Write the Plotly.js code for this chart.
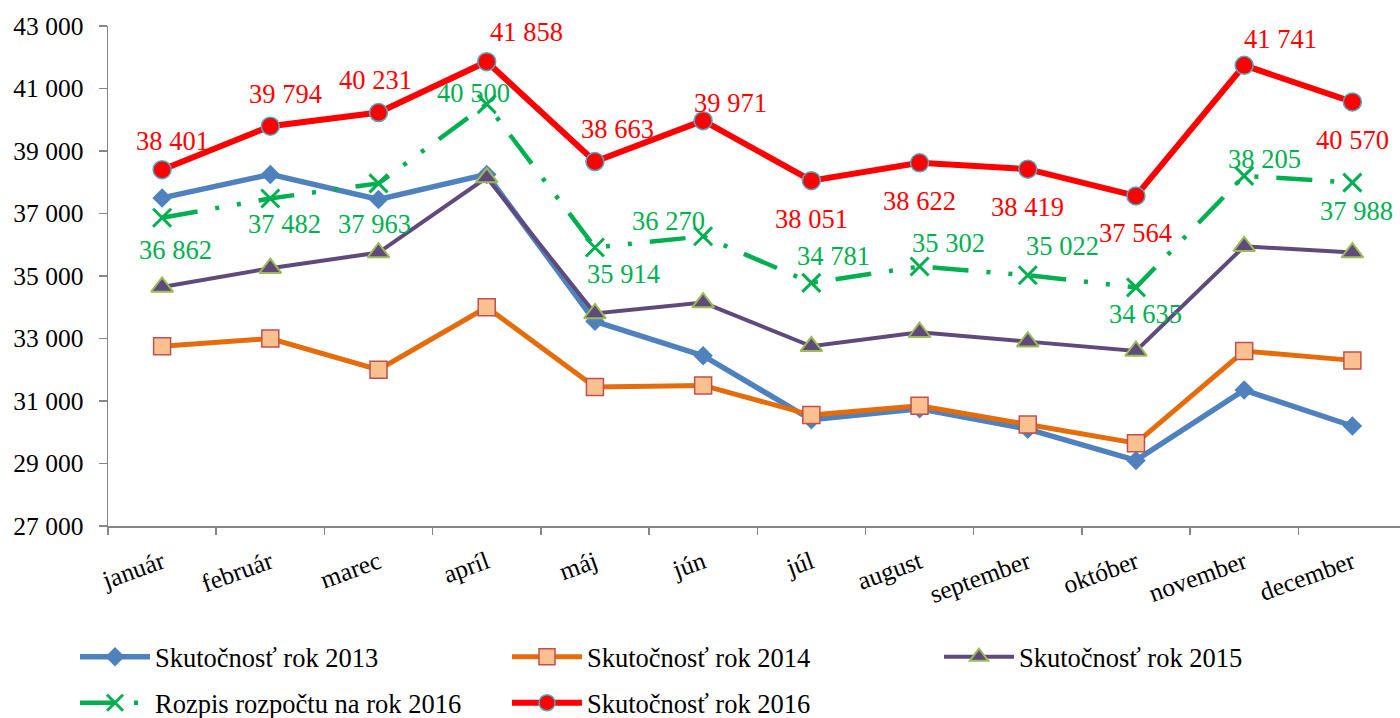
<!DOCTYPE html>
<html>
<head>
<meta charset="utf-8">
<script src="https://cdn.plot.ly/plotly-3.0.1.min.js"></script>
<style>
html,body{margin:0;padding:0;background:#fff;overflow:hidden;}
#chart{width:1400px;height:718px;}
</style>
</head>
<body>
<div id="chart"></div>
<script>
// ---- data ----
const months = ['január','február','marec','apríl','máj','jún','júl','august','september','október','november','december'];
const skut2013 = [37500, 38250, 37450, 38250, 33550, 32450, 30400, 30750, 30100, 29100, 31350, 30200];
const skut2014 = [32750, 33000, 32000, 34000, 31450, 31500, 30550, 30850, 30250, 29650, 32600, 32300];
const skut2015 = [34650, 35250, 35750, 38150, 33800, 34150, 32750, 33200, 32900, 32600, 35950, 35750];
const rozpis2016 = [36862, 37482, 37963, 40500, 35914, 36270, 34781, 35302, 35022, 34635, 38205, 37988];
const skut2016 = [38401, 39794, 40231, 41858, 38663, 39971, 38051, 38622, 38419, 37564, 41741, 40570];
const seriesNames = ['Skutočnosť rok 2013','Skutočnosť rok 2014','Skutočnosť rok 2015','Rozpis rozpočtu na rok 2016','Skutočnosť rok 2016'];
const yTicks = [27000, 29000, 31000, 33000, 35000, 37000, 39000, 41000, 43000];

// ---- style ----
const FONT = '"Liberation Serif", "Times New Roman", serif';
const fmt = v => String(v).replace(/\B(?=(\d{3})+(?!\d))/g, ' ');
// label offsets in screen pixels [dx, dy(down)]
const redOff = [[10,-29],[15,-32],[-3,-33],[40,-30],[23,-33],[27,-18],[0,38],[0,38],[0,38],[0,37],[36,-26],[0,38]];
const greenOff = [[13,32],[14,26],[-4,41],[-13,-11],[29,27],[-35,-15],[22,-27],[29,-24],[35,-29],[10,27],[20,-17],[4,28]];

const traces = [
  {x: months, y: skut2013, name: seriesNames[0], mode: 'lines+markers', legend: 'legend',
   line: {color: '#4F81BD', width: 5.5},
   marker: {symbol: 'diamond', size: 15, color: '#4F81BD'}, cliponaxis: false},
  {x: months, y: skut2014, name: seriesNames[1], mode: 'lines+markers', legend: 'legend',
   line: {color: '#E46C0A', width: 5},
   marker: {symbol: 'square', size: 17, color: '#FAC090', line: {color: '#C0504D', width: 1.5}}, cliponaxis: false},
  {x: months, y: skut2015, name: seriesNames[2], mode: 'lines+markers', legend: 'legend',
   line: {color: '#604A7B', width: 4},
   marker: {symbol: 'triangle-up', size: 19, color: '#604A7B', line: {color: '#9BBB59', width: 2}}, cliponaxis: false},
  {x: months, y: rozpis2016, name: seriesNames[3], mode: 'lines+markers', legend: 'legend2',
   line: {color: '#00B050', width: 4.5, dash: '36px,18px,4px,18px,4px,18px'},
   marker: {symbol: 'x-thin-open', size: 18, color: '#00B050', line: {color: '#00B050', width: 3}}, cliponaxis: false},
  {x: months, y: skut2016, name: seriesNames[4], mode: 'lines+markers', legend: 'legend2',
   line: {color: '#FF0000', width: 6},
   marker: {symbol: 'circle', size: 18, color: '#FF0000', line: {color: '#4BACC6', width: 1.5}}, cliponaxis: false}
];

const annotations = [];
skut2016.forEach((v, i) => annotations.push({
  x: months[i], y: v, xref: 'x', yref: 'y', text: fmt(v), showarrow: false,
  xanchor: 'center', yanchor: 'middle', xshift: redOff[i][0], yshift: -redOff[i][1],
  font: {family: FONT, size: 26.5, color: '#FF0000'}
}));
rozpis2016.forEach((v, i) => annotations.push({
  x: months[i], y: v, xref: 'x', yref: 'y', text: fmt(v), showarrow: false,
  xanchor: 'center', yanchor: 'middle', xshift: greenOff[i][0], yshift: -greenOff[i][1],
  font: {family: FONT, size: 26.5, color: '#00B050'}
}));

const legendCommon = {
  orientation: 'h', xanchor: 'left', yanchor: 'middle', xref: 'container', yref: 'container',
  entrywidth: 347, entrywidthmode: 'pixels', itemwidth: 70,
  font: {family: FONT, size: 26.5, color: '#000'}, bgcolor: 'rgba(0,0,0,0)',
  traceorder: 'normal', borderwidth: 0
};

const layout = {
  width: 1400, height: 718,
  margin: {l: 108, r: 0, t: 26, b: 192, pad: 0},
  paper_bgcolor: '#fff', plot_bgcolor: '#fff',
  separators: ', ',
  font: {family: FONT, size: 25, color: '#000'},
  showlegend: true,
  xaxis: {
    type: 'category', range: [-0.5, 11.44], tickangle: -20,
    showgrid: false, zeroline: false, showline: true, linecolor: '#868686', linewidth: 1.5,
    ticks: 'outside', tickson: 'boundaries', ticklen: 7, tickcolor: '#868686', tickwidth: 1.5,
    ticklabelstandoff: 10,
    tickfont: {family: FONT, size: 25.5, color: '#000'}, fixedrange: true
  },
  yaxis: {
    range: [27000, 43000], tickvals: yTicks, tickformat: ',d',
    showgrid: false, zeroline: false, showline: true, linecolor: '#868686', linewidth: 1.5,
    ticks: 'outside', ticklen: 8, tickcolor: '#868686', tickwidth: 1.5,
    ticklabelstandoff: 10,
    tickfont: {family: FONT, size: 25.5, color: '#000'}, fixedrange: true
  },
  legend: Object.assign({}, legendCommon, {x: 75 / 1400, y: 1 - 657 / 718}),
  legend2: Object.assign({}, legendCommon, {x: 75 / 1400, y: 1 - 703 / 718}),
  annotations: annotations
};

Plotly.newPlot('chart', traces, layout, {displayModeBar: false, staticPlot: true});
</script>
</body>
</html>
